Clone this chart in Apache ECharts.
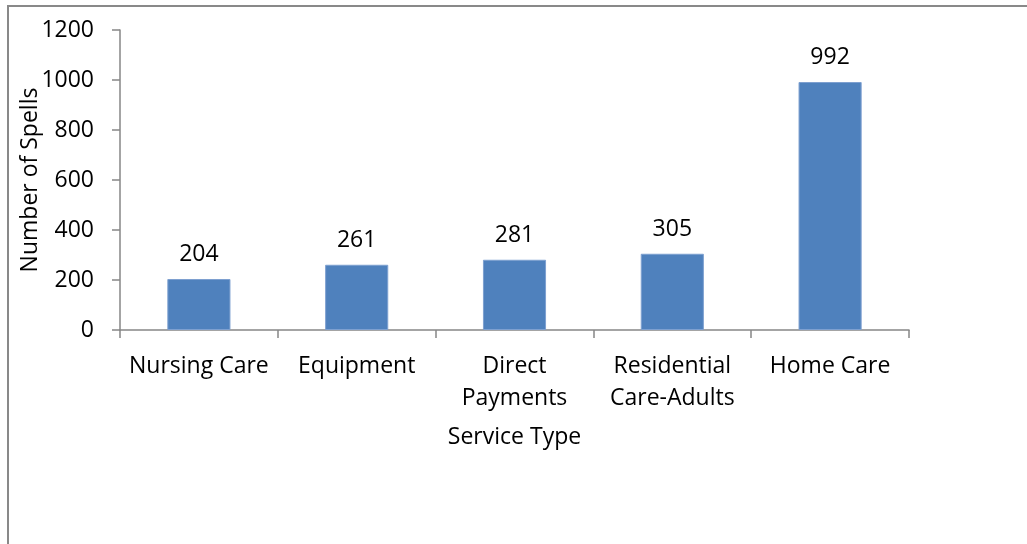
<!DOCTYPE html>
<html>
<head>
<meta charset="utf-8">
<script src="https://cdn.jsdelivr.net/npm/echarts@6/dist/echarts.min.js"></script>
<style>
html,body{margin:0;padding:0;background:#fff;}
#c{width:1027px;height:544px;}
</style>
</head>
<body>
<div id="c"></div>
<script>
const categories = ['Nursing Care', 'Equipment', 'Direct\nPayments', 'Residential\nCare-Adults', 'Home Care'];
const spells = [204, 261, 281, 305, 992];
const yTicks = [0, 200, 400, 600, 800, 1000, 1200];

const FONT = 'Open Sans';
const FS = 23;
const chart = echarts.init(document.getElementById('c'), null, {renderer: 'canvas'});
chart.setOption({
  animation: false,
  backgroundColor: '#fff',
  textStyle: {fontFamily: FONT},
  graphic: [{
    type: 'rect',
    shape: {x: 8, y: 6, width: 1030, height: 560},
    style: {fill: 'none', stroke: '#898989', lineWidth: 2},
    silent: true
  }],
  grid: {left: 120, top: 30, right: 118, bottom: 214, containLabel: false, outerBoundsMode: 'none'},
  xAxis: {
    type: 'category',
    data: categories,
    name: 'Service Type',
    nameLocation: 'middle',
    nameGap: 96,
    nameMoveOverlap: false,
    nameTextStyle: {fontSize: FS, color: '#000', fontFamily: FONT},
    axisLine: {lineStyle: {color: '#868686', width: 1.5}},
    axisTick: {show: true, alignWithLabel: false, length: 8, lineStyle: {color: '#868686', width: 1.5}},
    axisLabel: {fontSize: FS, color: '#000', fontFamily: FONT, margin: 20, lineHeight: 32, interval: 0}
  },
  yAxis: {
    type: 'value',
    min: 0, max: 1200, interval: 200,
    name: 'Number of Spells',
    nameLocation: 'middle',
    nameGap: 78,
    nameMoveOverlap: false,
    nameTextStyle: {fontSize: FS, color: '#000', fontFamily: FONT},
    splitLine: {show: false},
    axisLine: {show: true, lineStyle: {color: '#868686', width: 1.5}},
    axisTick: {show: true, length: 8, lineStyle: {color: '#868686', width: 1.5}},
    axisLabel: {fontSize: FS, color: '#000', fontFamily: FONT, margin: 26,
      formatter: v => yTicks.includes(v) ? String(v) : ''}
  },
  series: [{
    type: 'bar',
    data: spells,
    barWidth: '40%',
    itemStyle: {color: '#4F81BD', borderColor: '#7ea0d0', borderWidth: 1},
    label: {show: true, position: 'top', distance: 13, fontSize: FS, color: '#000', fontFamily: FONT}
  }]
});
</script>
</body>
</html>
